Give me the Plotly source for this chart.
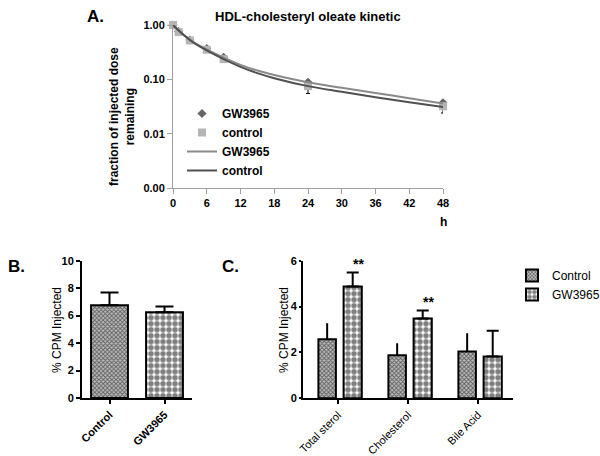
import plotly.graph_objects as go

FONT = "Arial, Liberation Sans, sans-serif"

# ---- Panel A data ----
t_points = [0, 1, 3, 6, 9, 24, 48]
gw_points = [1.0, 0.76, 0.53, 0.37, 0.255, 0.088, 0.037]
gw_err_plus = [0, 0.02, 0.02, 0.02, 0.015, 0.008, 0.004]
ctrl_points = [1.0, 0.74, 0.52, 0.35, 0.235, 0.075, 0.032]
ctrl_err_plus = [0, 0.02, 0.02, 0.02, 0.01, 0.008, 0.003]
ctrl_err_minus = [0, 0.02, 0.02, 0.02, 0.01, 0.02, 0.008]

t_fit = [0, 1, 2, 3, 4, 6, 9, 12, 15, 18, 24, 30, 36, 42, 48]
gw_fit = [1.0, 0.80, 0.65, 0.54, 0.46, 0.355, 0.25, 0.185, 0.145, 0.12, 0.088, 0.07, 0.056, 0.045, 0.036]
ctrl_fit = [1.0, 0.79, 0.64, 0.53, 0.45, 0.34, 0.235, 0.17, 0.13, 0.105, 0.075, 0.059, 0.047, 0.038, 0.031]

x_ticks_A = [0, 6, 12, 18, 24, 30, 36, 42, 48]
y_ticks_A = [0.001, 0.01, 0.1, 1.0]
y_ticktext_A = ["0.00", "0.01", "0.10", "1.00"]

# ---- Panel B data ----
b_cats = ["Control", "GW3965"]
b_vals = [6.76, 6.25]
b_err = [0.92, 0.42]
b_ticks = [0, 2, 4, 6, 8, 10]

# ---- Panel C data ----
c_cats = ["Total sterol", "Cholesterol", "Bile Acid"]
c_ctrl = [2.58, 1.88, 2.04]
c_ctrl_err = [0.69, 0.52, 0.80]
c_gw = [4.87, 3.48, 1.82]
c_gw_err = [0.62, 0.35, 1.13]
c_sig = ["**", "**", ""]
c_ticks = [0, 2, 4, 6]

CTRL_PAT = dict(shape="x", size=3, solidity=0.5, fgcolor="black", bgcolor="#bdbdbd")
GW_PAT = dict(shape=".", size=6, solidity=0.65, fgcolor="black", bgcolor="white")

fig = go.Figure()

# Panel A
fig.add_trace(go.Scatter(x=t_points, y=gw_points, mode="markers", name="<b>GW3965</b>",
                         marker=dict(symbol="diamond", size=7, color="#666666"),
                         error_y=dict(type="data", symmetric=False, array=gw_err_plus,
                                      arrayminus=[0]*7, color="black", thickness=1, width=2),
                         xaxis="x", yaxis="y", legend="legend2", cliponaxis=False))
fig.add_trace(go.Scatter(x=t_points, y=ctrl_points, mode="markers", name="<b>control</b>",
                         marker=dict(symbol="square", size=8, color="#b5b5b5"),
                         error_y=dict(type="data", symmetric=False, array=ctrl_err_plus,
                                      arrayminus=ctrl_err_minus, color="black", thickness=1, width=2),
                         xaxis="x", yaxis="y", legend="legend2", cliponaxis=False))
fig.add_trace(go.Scatter(x=t_fit, y=gw_fit, mode="lines", name="<b>GW3965</b>",
                         line=dict(color="#8a8a8a", width=2, shape="spline"),
                         xaxis="x", yaxis="y", legend="legend2"))
fig.add_trace(go.Scatter(x=t_fit, y=ctrl_fit, mode="lines", name="<b>control</b>",
                         line=dict(color="#505050", width=2, shape="spline"),
                         xaxis="x", yaxis="y", legend="legend2"))

# Panel B
fig.add_trace(go.Bar(x=[b_cats[0]], y=[b_vals[0]], width=0.67, showlegend=False,
                     marker=dict(color="white", line=dict(color="black", width=2), pattern=CTRL_PAT),
                     error_y=dict(type="data", symmetric=False, array=[b_err[0]], arrayminus=[0],
                                  color="black", thickness=2, width=9),
                     xaxis="x2", yaxis="y2"))
fig.add_trace(go.Bar(x=[b_cats[1]], y=[b_vals[1]], width=0.67, showlegend=False,
                     marker=dict(color="white", line=dict(color="black", width=2), pattern=GW_PAT),
                     error_y=dict(type="data", symmetric=False, array=[b_err[1]], arrayminus=[0],
                                  color="black", thickness=2, width=9),
                     xaxis="x2", yaxis="y2"))

# Panel C
fig.add_trace(go.Bar(x=c_cats, y=c_ctrl, name="Control", width=0.25, offset=-0.28,
                     marker=dict(color="white", line=dict(color="black", width=2), pattern=CTRL_PAT),
                     error_y=dict(type="data", symmetric=False, array=c_ctrl_err, arrayminus=[0]*3,
                                  color="black", thickness=2, width=0),
                     xaxis="x3", yaxis="y3", legend="legend"))
fig.add_trace(go.Bar(x=c_cats, y=c_gw, name="GW3965", width=0.26, offset=0.08,
                     marker=dict(color="white", line=dict(color="black", width=2), pattern=GW_PAT),
                     error_y=dict(type="data", symmetric=False, array=c_gw_err, arrayminus=[0]*3,
                                  color="black", thickness=2, width=6),
                     xaxis="x3", yaxis="y3", legend="legend"))


def ann(text, x, y, size, angle=0):
    return dict(text=text, x=x/600, y=1-y/456, xref="paper", yref="paper", showarrow=False,
                xanchor="center", yanchor="middle", textangle=angle,
                font=dict(size=size, family=FONT, color="black"))


annotations = [
    ann("<b>A.</b>", 95, 16, 17),
    ann("<b>HDL-cholesteryl oleate kinetic</b>", 308, 17, 13),
    ann("<b>fraction of injected dose<br>remaining</b>", 122, 117, 12, -90),
    ann("<b>h</b>", 443, 222, 12),
    ann("<b>B.</b>", 16, 266, 17),
    ann("<b>C.</b>", 230, 266, 17),
    ann("% CPM Injected", 57, 330, 12, -90),
    ann("% CPM Injected", 284, 330, 12, -90),
]
for cat, v, e, s in zip(c_cats, c_gw, c_gw_err, c_sig):
    if s:
        annotations.append(dict(text="<b>" + s + "</b>", x=cat, y=v + e, xref="x3", yref="y3",
                                xshift=20, yshift=8, showarrow=False,
                                font=dict(size=14, family=FONT, color="black")))

tickfont = dict(size=11, family=FONT, color="black")
bar_axis = dict(showline=True, linecolor="black", linewidth=2, ticks="outside", tickcolor="black",
                tickwidth=2, ticklen=4, showgrid=False, zeroline=False, tickfont=tickfont, automargin=False)

fig.update_layout(
    width=600, height=456, margin=dict(l=0, r=0, t=0, b=0, autoexpand=False),
    paper_bgcolor="white", plot_bgcolor="white",
    barmode="overlay",
    font=dict(family=FONT, color="black"),
    annotations=annotations,
    xaxis=dict(domain=[173/600, 443/600], range=[0, 48], tickvals=x_ticks_A,
               ticktext=["<b>%d</b>" % v for v in x_ticks_A], automargin=False,
               showline=True, linecolor="#a0a0a0", linewidth=1, ticks="outside", tickcolor="#a0a0a0",
               ticklen=5, showgrid=False, zeroline=False, tickfont=tickfont, anchor="y"),
    yaxis=dict(domain=[1-188/456, 1-25/456], type="log", range=[-3, 0], tickvals=y_ticks_A,
               ticktext=["<b>%s</b>" % s for s in y_ticktext_A], automargin=False,
               showline=True, linecolor="#a0a0a0", linewidth=1, ticks="outside", tickcolor="#a0a0a0",
               ticklen=5, showgrid=False, zeroline=False, tickfont=tickfont, anchor="x"),
    xaxis2=dict(bar_axis, domain=[82/600, 192/600], range=[-0.5, 1.5], tickangle=-45,
                tickvals=b_cats, ticktext=["<b>%s</b>" % c for c in b_cats], anchor="y2",
                tickfont=dict(size=11, family=FONT, color="black")),
    yaxis2=dict(bar_axis, domain=[1-398/456, 1-260.7/456], range=[0, 10],
                tickvals=b_ticks, ticktext=["<b>%d</b>" % v for v in b_ticks], anchor="x2"),
    xaxis3=dict(bar_axis, domain=[303/600, 513/600], range=[-0.5, 2.5], tickangle=-45,
                tickvals=c_cats, ticktext=c_cats, anchor="y3",
                tickfont=dict(size=11, family=FONT, color="black")),
    yaxis3=dict(bar_axis, domain=[1-398.3/456, 1-260.7/456], range=[0, 6], ticklen=2,
                tickvals=c_ticks, ticktext=["<b>%d</b>" % v for v in c_ticks], anchor="x3"),
    legend=dict(x=512/600, y=1-261/456, xanchor="left", yanchor="top", bgcolor="rgba(0,0,0,0)",
                font=dict(size=12, family=FONT, color="black"), tracegroupgap=0, itemwidth=30),
    legend2=dict(x=182/600, y=1-99/456, xanchor="left", yanchor="top", bgcolor="rgba(0,0,0,0)",
                 font=dict(size=12, family=FONT, color="black"), tracegroupgap=0, itemwidth=30),
)

fig.write_html("out.html", config={"displayModeBar": False},
               post_script="document.body.style.margin='0px';document.body.style.overflow='hidden';")
